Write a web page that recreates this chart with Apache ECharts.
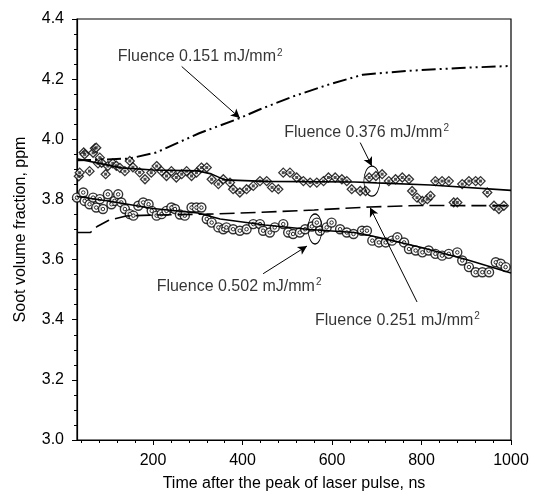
<!DOCTYPE html>
<html>
<head>
<meta charset="utf-8">
<script src="https://cdn.jsdelivr.net/npm/echarts@6/dist/echarts.min.js"></script>
<style>
  html, body { margin: 0; padding: 0; background: #fff; }
  #chart { width: 536px; height: 497px; }
</style>
</head>
<body>
<div id="chart"></div>
<script>
// --- data ---
// Fluence 0.151 (dash-dot-dot curve)
var t151 = [30, 80, 147, 207, 303, 393, 438, 512, 588, 669, 774, 886, 1000];
var v151 = [3.93, 3.932, 3.936, 3.956, 4.02, 4.07, 4.099, 4.142, 4.18, 4.215, 4.228, 4.237, 4.244];

// Fluence 0.251 (dashed curve)
var t251 = [30, 60, 75, 100, 140, 200, 320, 440, 560, 684, 800, 1000];
var v251 = [3.69, 3.69, 3.71, 3.73, 3.745, 3.748, 3.751, 3.757, 3.765, 3.775, 3.78, 3.779];

// Fluence 0.376 (diamonds + fit)
var t376 = [34, 36, 45, 47, 58, 66, 70, 73, 77, 81, 85, 94, 99, 110, 118, 126, 137, 148, 155, 170,
  182, 196, 208, 219, 230, 241, 252, 264, 275, 286, 297, 308, 320, 331, 346, 357, 372, 379, 394, 409,
  424, 439, 454, 466, 480, 491, 506, 521, 536, 551, 566, 581, 592, 607, 622, 633, 644, 663, 675, 683,
  698, 712, 727, 742, 757, 772, 779, 790, 802, 813, 820, 831, 846, 861, 872, 880, 891, 906, 921, 932,
  947, 962, 973, 984];
var v376 = [3.877, 3.889, 3.956, 3.95, 3.894, 3.955, 3.97, 3.972, 3.92, 3.939, 3.922, 3.884, 3.911, 3.92, 3.912, 3.905, 3.894, 3.928, 3.907, 3.89,
  3.867, 3.889, 3.911, 3.894, 3.878, 3.894, 3.873, 3.884, 3.894, 3.878, 3.889, 3.906, 3.906, 3.867, 3.851, 3.867, 3.856, 3.834, 3.823, 3.834,
  3.845, 3.861, 3.861, 3.84, 3.834, 3.889, 3.889, 3.873, 3.861, 3.856, 3.856, 3.861, 3.873, 3.873, 3.867, 3.861, 3.834, 3.828, 3.828, 3.873,
  3.878, 3.884, 3.861, 3.867, 3.873, 3.867, 3.828, 3.806, 3.795, 3.801, 3.812, 3.861, 3.861, 3.861, 3.79, 3.79, 3.851, 3.861, 3.861, 3.861,
  3.823, 3.779, 3.768, 3.779];
var fit376T = [30, 80, 130, 200, 300, 330, 360, 450, 650, 700, 820, 1000];
var fit376V = [3.935, 3.92, 3.905, 3.898, 3.895, 3.885, 3.865, 3.86, 3.858, 3.855, 3.848, 3.83];

// Fluence 0.502 (circles + fit)
var t502 = [30, 44, 47, 58, 66, 73, 81, 88, 99, 107, 114, 122, 129, 137, 148, 156, 167, 178, 190, 197,
  208, 219, 230, 241, 249, 260, 271, 286, 297, 308, 320, 331, 346, 357, 364, 379, 394, 409, 424, 439,
  446, 461, 472, 491, 502, 513, 528, 540, 555, 566, 573, 588, 599, 618, 633, 648, 667, 678, 690, 705,
  720, 734, 746, 761, 772, 787, 802, 816, 831, 846, 861, 880, 891, 906, 921, 936, 951, 966, 977, 988];
var v502 = [3.806, 3.823, 3.795, 3.784, 3.806, 3.773, 3.801, 3.768, 3.817, 3.784, 3.795, 3.817, 3.79, 3.768, 3.751, 3.746, 3.779, 3.79, 3.784, 3.762,
  3.746, 3.751, 3.762, 3.773, 3.768, 3.75, 3.746, 3.773, 3.773, 3.773, 3.735, 3.723, 3.707, 3.701, 3.707, 3.701, 3.696, 3.701, 3.718, 3.718,
  3.696, 3.69, 3.707, 3.718, 3.69, 3.685, 3.69, 3.701, 3.71, 3.723, 3.696, 3.707, 3.723, 3.701, 3.69, 3.685, 3.696, 3.696, 3.663, 3.657,
  3.657, 3.663, 3.674, 3.657, 3.635, 3.63, 3.624, 3.63, 3.619, 3.613, 3.619, 3.624, 3.597, 3.575, 3.558, 3.558, 3.558, 3.591, 3.586, 3.575];
var fit502T = [30, 100, 200, 300, 350, 450, 550, 650, 700, 800, 900, 1000];
var fit502V = [3.81, 3.795, 3.77, 3.755, 3.735, 3.715, 3.70, 3.69, 3.675, 3.64, 3.60, 3.555];

// axis ticks
var xLabels = [200, 400, 600, 800, 1000];
var xMinor = [40, 80, 120, 160, 240, 280, 320, 360, 440, 480, 520, 560, 640, 680, 720, 760, 840, 880, 920, 960];

// annotations: text anchor (left edge, middle), arrow start/end, ellipses
var noteText = ['0.151', '0.376', '0.502', '0.251'];
var noteX = [121, 493, 208, 562];
var noteY = [4.274, 4.023, 3.510, 3.397];
var arrowFrom = [[264, 4.242], [663, 3.989], [446, 3.553], [790, 3.459]];
var arrowTo = [[394, 4.071], [689, 3.911], [544, 3.645], [685, 3.773]];
var ellipseAt = [[689, 3.861], [562, 3.702]];

function pairs(xs, ys) {
  return xs.map(function (x, i) { return [x, ys[i]]; });
}

var FONT = "'Liberation Sans', Arial, sans-serif";
var chart = echarts.init(document.getElementById('chart'), null, { renderer: 'canvas' });

var axisText = { color: '#000', fontFamily: FONT, fontSize: 16 };

var option = {
  backgroundColor: '#fff',
  animation: false,
  grid: {
    left: 77, right: 25, top: 19, bottom: 55,
    show: true, borderColor: '#000', borderWidth: 1.2, backgroundColor: 'transparent'
  },
  xAxis: [{
    type: 'value', min: 30, max: 1000,
    name: 'Time after the peak of laser pulse, ns',
    nameLocation: 'middle', nameGap: 36,
    nameTextStyle: axisText,
    axisLine: { lineStyle: { color: '#000', width: 1.2 } },
    axisTick: { inside: false, length: 5, customValues: xLabels, lineStyle: { color: '#000' } },
    axisLabel: Object.assign({ margin: 13, customValues: xLabels, formatter: function (v) { return String(v); } }, axisText),
    splitLine: { show: false }
  }, {
    type: 'value', min: 30, max: 1000, position: 'bottom',
    axisLine: { show: true, lineStyle: { color: '#000', width: 1.2 } },
    axisTick: { show: true, inside: false, length: 3, customValues: xMinor, lineStyle: { color: '#000' } },
    axisLabel: { show: false },
    splitLine: { show: false }
  }],
  yAxis: {
    type: 'value', min: 3.0, max: 4.4, interval: 0.2,
    name: 'Soot volume fraction, ppm',
    nameLocation: 'middle', nameGap: 48, nameRotate: 90,
    nameTextStyle: axisText,
    axisLine: { show: true, lineStyle: { color: '#000', width: 1.2 } },
    axisTick: { show: true, inside: false, length: 5, lineStyle: { color: '#000' } },
    minorTick: { show: true, splitNumber: 4, length: 3, lineStyle: { color: '#000' } },
    axisLabel: Object.assign({ margin: 13, formatter: function (v) { return v.toFixed(1); } }, axisText),
    splitLine: { show: false }
  },
  series: [
    {
      name: '0.376 points', type: 'scatter', symbol: 'diamond', symbolSize: 9,
      itemStyle: { color: '#fff', borderColor: '#000', borderWidth: 1.3 },
      data: pairs(t376, v376), z: 2
    },
    {
      name: '0.376 dots', type: 'scatter', symbol: 'rect', symbolSize: 3,
      itemStyle: { color: '#222' }, data: pairs(t376, v376), z: 3
    },
    {
      name: '0.502 points', type: 'scatter', symbol: 'circle', symbolSize: 9,
      itemStyle: { color: '#fff', borderColor: '#000', borderWidth: 1.4 },
      data: pairs(t502, v502), z: 2
    },
    {
      name: '0.502 dots', type: 'scatter', symbol: 'circle', symbolSize: 3.5,
      itemStyle: { color: '#fff', borderColor: '#000', borderWidth: 1 },
      data: pairs(t502, v502), z: 3
    },
    {
      name: '0.151', type: 'line', showSymbol: false, data: pairs(t151, v151),
      lineStyle: { color: '#000', width: 2, type: [14, 4, 2, 4, 2, 4] }, z: 4
    },
    {
      name: '0.251', type: 'line', showSymbol: false, data: pairs(t251, v251),
      lineStyle: { color: '#000', width: 1.6, type: [15, 6] }, z: 4
    },
    {
      name: '0.376 fit', type: 'line', showSymbol: false, data: pairs(fit376T, fit376V),
      lineStyle: { color: '#000', width: 1.6 }, z: 4
    },
    {
      name: '0.502 fit', type: 'line', showSymbol: false, data: pairs(fit502T, fit502V),
      lineStyle: { color: '#000', width: 1.6 }, z: 4
    },
    {
      name: 'notes', type: 'scatter', symbolSize: 0, silent: true, z: 5,
      data: noteX.map(function (x, i) { return [x, noteY[i], noteText[i]]; }),
      label: {
        show: true, position: 'right', distance: 0,
        formatter: function (p) { return '{a|Fluence ' + p.value[2] + ' mJ/mm}{s|2}'; },
        rich: {
          a: { fontFamily: FONT, fontSize: 16, color: '#000', lineHeight: 18 },
          s: { fontFamily: FONT, fontSize: 10, color: '#000', verticalAlign: 'top', lineHeight: 18, padding: [0, 0, 6, 1] }
        }
      },
      markLine: {
        silent: true, animation: false,
        symbol: ['none', 'arrow'], symbolSize: [7, 9],
        label: { show: false },
        lineStyle: { color: '#000', width: 1, type: 'solid' },
        data: arrowFrom.map(function (a, i) {
          return [{ coord: a }, { coord: arrowTo[i] }];
        })
      },
      markPoint: {
        silent: true, animation: false, symbol: 'circle',
        label: { show: false },
        itemStyle: { color: 'rgba(0,0,0,0)', borderColor: '#000', borderWidth: 1 },
        data: [
          { coord: ellipseAt[0], symbolSize: [16, 30] },
          { coord: ellipseAt[1], symbolSize: [14, 30] }
        ]
      }
    }
  ]
};

chart.setOption(option);
</script>
</body>
</html>
